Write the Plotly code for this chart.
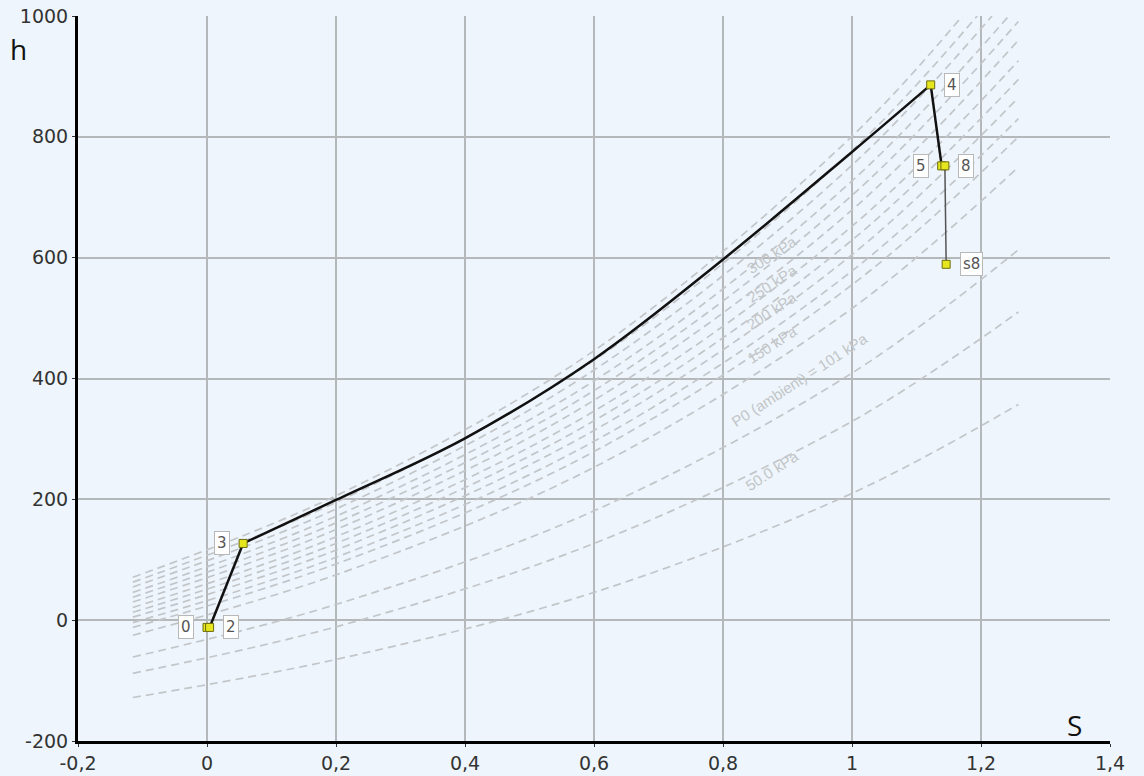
import numpy as np
import plotly.graph_objects as go

# ---------------- data ----------------
x_ticks = [-0.2, 0, 0.2, 0.4, 0.6, 0.8, 1, 1.2, 1.4]
x_tick_text = ["-0,2", "0", "0,2", "0,4", "0,6", "0,8", "1", "1,2", "1,4"]
y_ticks = [-200, 0, 200, 400, 600, 800, 1000]
y_tick_text = ["-200", "0", "200", "400", "600", "800", "1000"]

# isobars (dashed grey), h at the listed s positions
iso_s_full = [-0.115, 0.2, 0.6, 1.0, 1.258]
iso_h_25 = [-128, -65, 46, 210, 357]
iso_h_50 = [-88, -11, 127, 329, 510]
iso_h_75 = [-61, 26, 181, 409, 613]
iso_h_101 = [-25, 75, 253, 516, 750]
iso_h_150 = [-12, 93, 279, 555, 800]
iso_h_175 = [-4, 104, 296, 578, 830]
iso_h_200 = [5, 116, 314, 605, 865]
iso_h_225 = [13, 127, 330, 629, 895]
iso_h_250 = [21, 138, 346, 652, 926]
iso_h_275 = [30, 150, 364, 679, 960]
iso_h_300 = [38, 161, 380, 703, 991]
# isobars that leave the plot through the top edge (h = 1000)
iso_s_325 = [-0.115, 0.2, 0.6, 1.0, 1.243]
iso_h_325 = [46, 172, 396, 727, 1000]
iso_s_350 = [-0.115, 0.2, 0.6, 1.0, 1.217]
iso_h_350 = [55, 184, 414, 753, 1000]
iso_s_375 = [-0.115, 0.2, 0.6, 1.0, 1.194]
iso_h_375 = [63, 195, 430, 777, 1000]
iso_s_400 = [-0.115, 0.2, 0.6, 1.0, 1.171]
iso_h_400 = [71, 206, 446, 801, 1000]

iso_s_list = [iso_s_full] * 11 + [iso_s_325, iso_s_350, iso_s_375, iso_s_400]
iso_h_list = [iso_h_25, iso_h_50, iso_h_75, iso_h_101, iso_h_150, iso_h_175,
              iso_h_200, iso_h_225, iso_h_250, iso_h_275, iso_h_300,
              iso_h_325, iso_h_350, iso_h_375, iso_h_400]

# isobar labels
iso_label_text = ["300 kPa", "250 kPa", "200 kPa", "150 kPa",
                  "P0 (ambient) = 101 kPa", "50.0 kPa"]
iso_label_s = [0.876, 0.876, 0.876, 0.876, 0.919, 0.876]
iso_label_h = [605, 558, 512, 457, 399, 248]

# cycle state points
pt_names = ["0", "2", "3", "4", "5", "8", "s8"]
pt_s = [0.0, 0.004, 0.056, 1.122, 1.139, 1.144, 1.146]
pt_h = [-12, -12, 127, 886, 752, 752, 589]
pt_label_side = [-1, 1, -1, 1, -1, 1, 1]

# heating curve 3 -> 4
curve_s = [0.056, 0.2, 0.4, 0.6, 0.8, 1.0, 1.122]
curve_h = [127, 199, 301, 432, 597, 775, 886]

# ---------------- figure ----------------
BG = "#eef5fc"
fig = go.Figure()

for s_vals, h_vals in zip(iso_s_list, iso_h_list):
    fig.add_trace(go.Scatter(
        x=s_vals, y=h_vals, mode="lines",
        line=dict(color="#c3c6c9", width=1.7, dash="8px,5px", shape="spline", smoothing=1.0),
        hoverinfo="skip", showlegend=False))

# 2 -> 3
fig.add_trace(go.Scatter(x=[pt_s[1], pt_s[2]], y=[pt_h[1], pt_h[2]], mode="lines",
                         line=dict(color="#111111", width=2.5), showlegend=False))
# 3 -> 4
fig.add_trace(go.Scatter(x=curve_s, y=curve_h, mode="lines",
                         line=dict(color="#111111", width=2.5, shape="spline"), showlegend=False))
# 4 -> 5
fig.add_trace(go.Scatter(x=[pt_s[3], pt_s[4]], y=[pt_h[3], pt_h[4]], mode="lines",
                         line=dict(color="#111111", width=2.5), showlegend=False))
# 8 -> s8
fig.add_trace(go.Scatter(x=[pt_s[5], pt_s[6]], y=[pt_h[5], pt_h[6]], mode="lines",
                         line=dict(color="#555555", width=1.5), showlegend=False))

# markers
fig.add_trace(go.Scatter(
    x=pt_s, y=pt_h, mode="markers",
    marker=dict(symbol="square", size=8, color="#e6e61e", line=dict(color="#6d6d10", width=1)),
    showlegend=False))

# point labels
for name, s, h, side in zip(pt_names, pt_s, pt_h, pt_label_side):
    fig.add_annotation(
        x=s, y=h, text=name, showarrow=False,
        xshift=side * (21 if len(name) == 1 else 25),
        font=dict(family="DejaVu Sans, Arial", size=15, color="#555555"),
        bgcolor="#ffffff", bordercolor="#b8b8b8", borderwidth=1, borderpad=2)

# isobar labels
for txt, s, h in zip(iso_label_text, iso_label_s, iso_label_h):
    fig.add_annotation(
        x=s, y=h, text=txt, showarrow=False, textangle=-33,
        font=dict(family="Liberation Sans, Arial", size=15, color="#c2c5c8"))

# axis titles
fig.add_annotation(xref="paper", yref="paper", x=-0.058, y=0.955, text="h", showarrow=False,
                   xanchor="center", yanchor="middle",
                   font=dict(family="Open Sans, Arial", size=28, color="#111111"))
fig.add_annotation(xref="paper", yref="paper", x=0.966, y=0.022, text="S", showarrow=False,
                   xanchor="center", yanchor="middle",
                   font=dict(family="Open Sans, Arial", size=28, color="#111111"))

axis_common = dict(
    showgrid=True, gridcolor="#b5b8bb", gridwidth=1.6, zeroline=False,
    showline=True, linecolor="#000000", linewidth=3, automargin=False,
    ticks="outside", ticklen=3, tickcolor="#333333", tickwidth=1,
    tickfont=dict(family="DejaVu Sans, Verdana", size=19, color="#333333"))

fig.update_xaxes(range=[-0.2, 1.4], tickvals=x_ticks, ticktext=x_tick_text, **axis_common)
fig.update_yaxes(range=[-200, 1000], tickvals=y_ticks, ticktext=y_tick_text, **axis_common)
fig.update_xaxes(ticklabelstandoff=0)

fig.update_layout(
    width=1144, height=776, autosize=False,
    margin=dict(l=78, r=34, t=16, b=35),
    plot_bgcolor=BG, paper_bgcolor=BG,
    showlegend=False)

fig.write_html("out.html", config={"displayModeBar": False},
               post_script="document.body.style.margin='0';document.body.style.background='%s';" % BG)
